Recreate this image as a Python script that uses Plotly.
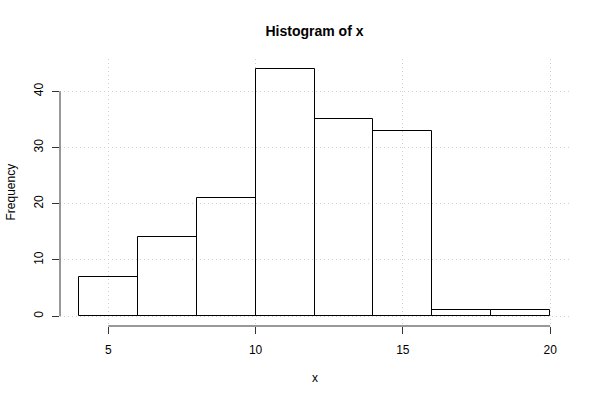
import plotly.graph_objects as go

bin_edges = [4, 6, 8, 10, 12, 14, 16, 18, 20]
counts = [7, 14, 21, 44, 35, 33, 1, 1]
x_ticks = [5, 10, 15, 20]
y_ticks = [0, 10, 20, 30, 40]

centers = [(a + b) / 2 for a, b in zip(bin_edges[:-1], bin_edges[1:])]
widths = [b - a for a, b in zip(bin_edges[:-1], bin_edges[1:])]

FONT = "Liberation Sans, Arial, Helvetica, sans-serif"

fig = go.Figure()
fig.add_trace(go.Bar(
    x=centers, y=counts, width=widths,
    marker=dict(color="rgba(0,0,0,0)", line=dict(color="black", width=1)),
    hoverinfo="x+y", showlegend=False,
))

xr = [bin_edges[0] - 0.04 * (bin_edges[-1] - bin_edges[0]), bin_edges[-1] + 0.04 * (bin_edges[-1] - bin_edges[0])]
ymax = max(counts)
yr = [-0.04 * ymax, ymax * 1.04]

fig.update_layout(
    width=600, height=400,
    margin=dict(l=60, r=31, t=59, b=74),
    paper_bgcolor="white", plot_bgcolor="white",
    font=dict(family=FONT, size=12, color="black"),
    bargap=0,
    title=dict(text="<b>Histogram of x</b>", x=(60 + 569) / 2 / 600, xanchor="center",
               y=1 - 31 / 400, yanchor="middle", font=dict(size=14, family=FONT)),
    xaxis=dict(range=xr, tickvals=x_ticks, ticks="outside", ticklen=7, tickcolor="#333",
               showline=False, zeroline=False, showgrid=True, gridcolor="#cfcfcf",
               griddash="1px,3px", gridwidth=1, ticklabelstandoff=6,
               tickfont=dict(size=12, family=FONT)),
    yaxis=dict(range=yr, tickvals=y_ticks, ticks="outside", ticklen=7, tickcolor="#333",
               showline=False, zeroline=False, showgrid=True, gridcolor="#cfcfcf",
               griddash="1px,3px", gridwidth=1, tickangle=-90, ticklabelstandoff=4,
               tickfont=dict(size=12, family=FONT)),
    shapes=[
        dict(type="line", xref="x", yref="paper", x0=x_ticks[0], x1=x_ticks[-1], y0=0, y1=0,
             line=dict(color="#333", width=1)),
        dict(type="line", xref="paper", yref="y", x0=0, x1=0, y0=y_ticks[0], y1=y_ticks[-1],
             line=dict(color="#333", width=1)),
    ],
    annotations=[
        dict(text="x", xref="paper", yref="paper", x=0.5, y=-(378 - 326) / (326 - 59),
             showarrow=False, xanchor="center", yanchor="middle", font=dict(size=12, family=FONT)),
        dict(text="Frequency", xref="paper", yref="paper", x=-(60 - 10) / (569 - 60),
             y=0.5, showarrow=False, textangle=-90, xanchor="center", yanchor="middle",
             font=dict(size=12, family=FONT)),
    ],
)

fig.write_html("out.html", config={"displayModeBar": False})

with open("out.html", "r", encoding="utf-8") as f:
    html = f.read()
html = html.replace("<head>", "<head><style>html,body{margin:0;padding:0;overflow:hidden;}</style>", 1)
with open("out.html", "w", encoding="utf-8") as f:
    f.write(html)
